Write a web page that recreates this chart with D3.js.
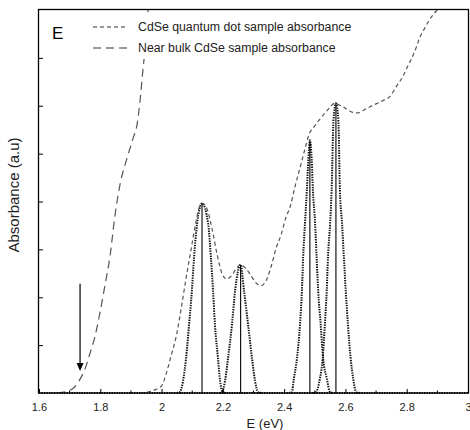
<!DOCTYPE html>
<html>
<head>
<meta charset="utf-8">
<script src="https://cdn.jsdelivr.net/npm/d3@7"></script>
<style>
  body { margin: 0; background: white; }
  text { font-family: "Liberation Sans", Arial, sans-serif; }
</style>
</head>
<body>
<div id="container"></div>
<script>
// values: [E (eV), absorbance (a.u.)]
let xTicks = [1.6, 1.8, 2, 2.2, 2.4, 2.6, 2.8, 3];
let xMinor = [1.7, 1.9, 2.1, 2.3, 2.5, 2.7, 2.9];
let yTicks = [1, 2, 3, 4, 5, 6, 7];

let bulk = [[1.66,0],[1.695,0.04],[1.717,0.13],[1.734,0.29],[1.75,0.5],[1.766,0.82],[1.783,1.19],
  [1.799,1.68],[1.815,2.24],[1.832,2.87],[1.848,3.71],[1.864,4.34],[1.887,4.9],[1.907,5.32],
  [1.92,5.61],[1.93,6.12],[1.939,6.74],[1.949,7.37],[1.956,8.0]];

let qd = [[1.93,0],[1.955,0.02],[1.98,0.07],[2.0,0.15],[2.015,0.4],[2.03,0.75],[2.05,1.25],
  [2.065,1.8],[2.08,2.4],[2.095,2.95],[2.11,3.5],[2.122,3.85],[2.133,3.96],[2.148,3.85],
  [2.165,3.42],[2.181,2.9],[2.197,2.5],[2.212,2.38],[2.228,2.45],[2.244,2.6],[2.257,2.68],
  [2.272,2.62],[2.289,2.48],[2.308,2.3],[2.325,2.24],[2.345,2.4],[2.36,2.7],[2.375,3.05],
  [2.39,3.3],[2.405,3.65],[2.42,3.9],[2.435,4.3],[2.452,4.71],[2.468,5.1],[2.48,5.38],
  [2.5,5.58],[2.517,5.72],[2.54,5.9],[2.566,6.05],[2.585,6.0],[2.605,5.93],[2.625,5.86],
  [2.641,5.85],[2.665,5.93],[2.69,6.01],[2.72,6.1],[2.746,6.2],[2.766,6.4],[2.788,6.62],
  [2.805,6.85],[2.817,7.0],[2.83,7.2],[2.843,7.43],[2.857,7.6],[2.87,7.75],[2.899,8.0]];

let peak1 = [[2.05,0],[2.06,0.02],[2.07,0.25],[2.08,0.73],[2.09,1.45],[2.099,2.14],[2.106,2.83],
  [2.116,3.54],[2.132,3.96],[2.152,3.54],[2.161,2.83],[2.168,2.14],[2.174,1.45],[2.184,0.73],
  [2.191,0.25],[2.2,0.02],[2.21,0]];
let peak2 = [[2.19,0],[2.197,0.02],[2.207,0.25],[2.217,0.73],[2.23,1.45],[2.24,2.14],[2.258,2.68],
  [2.269,2.14],[2.282,1.45],[2.295,0.73],[2.305,0.25],[2.315,0.02],[2.325,0]];
let peak3 = [[2.415,0],[2.425,0.02],[2.432,0.31],[2.442,0.73],[2.452,1.45],[2.458,2.14],[2.462,2.83],
  [2.468,3.54],[2.474,4.23],[2.479,4.86],[2.484,5.28],[2.49,4.86],[2.494,4.23],[2.501,3.54],
  [2.506,2.83],[2.511,2.14],[2.519,1.45],[2.527,0.73],[2.539,0.31],[2.55,0.02],[2.56,0]];
let peak4 = [[2.495,0],[2.504,0.02],[2.517,0.31],[2.526,0.73],[2.533,1.45],[2.539,2.14],[2.543,2.83],
  [2.55,3.54],[2.555,4.23],[2.561,5.7],[2.569,6.05],[2.577,5.7],[2.582,4.23],[2.589,3.54],
  [2.595,2.83],[2.601,2.14],[2.608,1.45],[2.617,0.73],[2.625,0.31],[2.635,0.02],[2.645,0]];
let baseline = [[1.6,0],[3.0,0]];

let stickE = [2.132, 2.258, 2.484, 2.569];
let stickA = [3.96, 2.68, 5.28, 6.05];

let arrowE = 1.734;
let arrowFrom = 2.28;
let arrowTo = 0.46;

let legendLabels = ["CdSe quantum dot sample absorbance", "Near bulk CdSe sample absorbance"];

let w = 470;
let h = 430;

let xScale = d3.scaleLinear().domain([1.6, 3.0]).range([39, 468]);
let yScale = d3.scaleLinear().domain([0, 8]).range([393, 10]);

let viz = d3.select("#container")
  .append("svg")
    .attr("width", w)
    .attr("height", h)
    .style("background-color", "white")
;

let line = d3.line()
    .x(d => xScale(d[0]))
    .y(d => yScale(d[1]))
    .curve(d3.curveMonotoneX)
;

let plot = viz.append("g");

// dotted fitted peaks
plot.selectAll(".peak").data([baseline, peak1, peak2, peak3, peak4]).enter()
  .append("path")
    .attr("d", line)
    .attr("fill", "none")
    .attr("stroke", "#111")
    .attr("stroke-width", 2)
    .attr("stroke-dasharray", "1.4,1.1")
;

// stick lines
plot.selectAll(".stick").data(stickE).enter()
  .append("line")
    .attr("x1", d => xScale(d))
    .attr("x2", d => xScale(d))
    .attr("y1", yScale(0))
    .attr("y2", (d, i) => yScale(stickA[i]))
    .attr("stroke", "black")
    .attr("stroke-width", 1.1)
;

plot.append("path")
    .datum(qd)
    .attr("d", line)
    .attr("fill", "none")
    .attr("stroke", "#555")
    .attr("stroke-width", 1.2)
    .attr("stroke-dasharray", "4,3")
;

plot.append("path")
    .datum(bulk)
    .attr("d", line)
    .attr("fill", "none")
    .attr("stroke", "#555")
    .attr("stroke-width", 1.2)
    .attr("stroke-dasharray", "8,5")
;

// arrow
plot.append("line")
    .attr("x1", xScale(arrowE))
    .attr("x2", xScale(arrowE))
    .attr("y1", yScale(arrowFrom))
    .attr("y2", yScale(arrowTo) - 6)
    .attr("stroke", "black")
    .attr("stroke-width", 1.2)
;
plot.append("path")
    .attr("d", "M" + (xScale(arrowE) - 3.5) + "," + (yScale(arrowTo) - 8)
      + "L" + (xScale(arrowE) + 3.5) + "," + (yScale(arrowTo) - 8)
      + "L" + xScale(arrowE) + "," + yScale(arrowTo) + "Z")
    .attr("fill", "black")
;

// legend
viz.append("rect")
    .attr("x", 88).attr("y", 15)
    .attr("width", 272).attr("height", 44)
    .attr("fill", "white")
;
let legend = viz.selectAll(".legend").data(legendLabels).enter()
  .append("g")
    .attr("transform", (d, i) => "translate(93," + (27 + i * 21) + ")")
;
legend.append("line")
    .attr("x1", 0).attr("x2", 35)
    .attr("stroke", "#333")
    .attr("stroke-width", 1.2)
    .attr("stroke-dasharray", (d, i) => i == 0 ? "4,3" : "8,5")
;
legend.append("text")
    .text(d => d)
    .attr("x", 45)
    .attr("dy", "0.35em")
    .attr("fill", "#222")
    .style("font-size", "12.3px")
;

viz.append("text")
    .text("E")
    .attr("x", 52).attr("y", 39)
    .style("font-size", "17px")
;

// frame and ticks
viz.append("rect")
    .attr("x", 38.5).attr("y", 9.5)
    .attr("width", 430).attr("height", 383.5)
    .attr("fill", "none")
    .attr("stroke", "black")
    .attr("stroke-width", 1.3)
;

let xAxis = d3.axisBottom(xScale)
    .tickValues(xTicks)
    .tickSizeInner(-4)
    .tickSizeOuter(0)
    .tickPadding(10)
    .tickFormat(d3.format("~g"))
;
let gx = viz.append("g")
    .attr("transform", "translate(0," + yScale(0) + ")")
    .call(xAxis)
;
gx.select(".domain").remove();
gx.selectAll("text").style("font-size", "11px").style("font-family", "Liberation Sans, Arial, sans-serif").attr("fill", "#222");

gx.selectAll(".minor").data(xMinor).enter()
  .append("line")
    .attr("x1", d => xScale(d)).attr("x2", d => xScale(d))
    .attr("y1", 0).attr("y2", -2.5)
    .attr("stroke", "black")
;

let yAxis = d3.axisLeft(yScale)
    .tickValues(yTicks)
    .tickSizeInner(-4)
    .tickSizeOuter(0)
    .tickFormat("")
;
let gy = viz.append("g")
    .attr("transform", "translate(" + xScale(1.6) + ",0)")
    .call(yAxis)
;
gy.select(".domain").remove();

viz.append("text")
    .text("E (eV)")
    .attr("x", 265).attr("y", 428)
    .attr("text-anchor", "middle")
    .attr("fill", "#222")
    .style("font-size", "13px")
;

viz.append("text")
    .text("Absorbance (a.u)")
    .attr("transform", "translate(19,195) rotate(-90)")
    .attr("text-anchor", "middle")
    .attr("fill", "#222")
    .style("font-size", "15px")
;
</script>
</body>
</html>
